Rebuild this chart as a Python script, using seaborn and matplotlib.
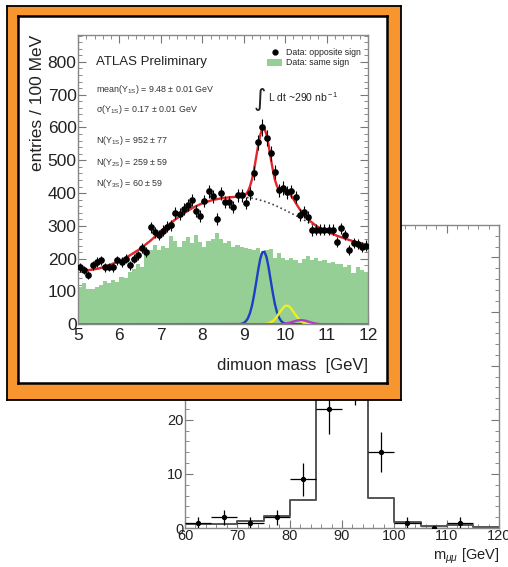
import numpy as np
import matplotlib
matplotlib.use("Agg")
import matplotlib.pyplot as plt
from matplotlib.ticker import MultipleLocator
from matplotlib.lines import Line2D
from matplotlib.patches import Patch
import seaborn as sns

# --- Upsilon region (inset), 100 MeV bins from 5 to 12 GeV ---
mass_lo, mass_hi, mass_bin = 5.0, 12.0, 0.1
opp_counts = [174, 165, 150, 180, 190, 195, 174, 175, 174, 195,
              190, 200, 180, 200, 210, 232, 220, 296, 280, 272,
              285, 298, 302, 339, 336, 351, 363, 379, 345, 330,
              376, 406, 391, 320, 400, 373, 373, 357, 394, 394,
              370, 400, 460, 555, 600, 568, 522, 464, 409, 415,
              402, 405, 388, 333, 342, 327, 287, 288, 288, 288,
              288, 288, 250, 293, 272, 226, 247, 245, 235, 240]
same_counts = [115, 125, 107, 107, 113, 120, 133, 125, 135, 130,
               143, 140, 160, 170, 185, 175, 210, 225, 243, 225,
               240, 233, 270, 255, 237, 253, 265, 247, 273, 250,
               237, 255, 260, 277, 260, 247, 253, 235, 243, 237,
               233, 230, 225, 233, 217, 225, 230, 203, 217, 203,
               197, 203, 197, 187, 200, 207, 197, 203, 193, 197,
               187, 190, 185, 185, 175, 180, 155, 175, 165, 160]

# fit curves
bg_x = [5.0, 5.25, 5.5, 5.75, 6.0, 6.25, 6.5, 6.75, 7.0, 7.25, 7.5, 7.75, 8.0,
        8.25, 8.5, 8.75, 9.0, 9.25, 9.5, 9.75, 10.0, 10.25, 10.5, 10.75, 11.0,
        11.25, 11.5, 11.75, 12.0]
bg_y = [172, 165, 170, 180, 193, 210, 230, 255, 283, 310, 334, 354, 369,
        379, 385, 388, 388, 383.5, 375, 363, 348, 332, 315, 298, 283,
        270, 259, 249, 242]
peak_x = list(np.round(np.arange(9.0, 10.501, 0.05), 2))
peak_y = [392, 396, 405, 420, 442, 472, 509, 546, 578, 597,
          597, 578, 547, 508, 473, 442, 422, 412, 408, 408,
          408, 406, 400, 391, 382, 371, 361, 351, 343, 334, 328]
tail_x = [10.6, 10.75, 11.0, 11.25, 11.5, 11.75, 12.0]
tail_y = [315, 300, 283, 270, 259, 249, 242]
fit_x = bg_x[:16] + peak_x + tail_x
fit_y = bg_y[:16] + peak_y + tail_y

y1s_x = [5.0] + list(np.round(np.arange(8.9, 10.101, 0.05), 2)) + [12.0]
y1s_y = [0, 0.7, 1.7, 4.2, 9.1, 18, 34, 57, 89, 127, 166, 200, 220, 221, 205,
         174, 135, 97, 63, 38, 21, 10.5, 4.9, 2.1, 0.8, 0.3, 0]
y2s_x = [5.0] + list(np.round(np.arange(9.5, 10.601, 0.05), 2)) + [12.0]
y2s_y = [0, 0.6, 1.4, 2.9, 5.4, 9.6, 15.6, 23, 33, 42, 50, 56, 57, 54, 47, 38,
         29, 20, 13, 7.7, 4.2, 2.2, 1.0, 0.5, 0]
y3s_x = [5.0, 9.9, 10.0, 10.1, 10.2, 10.3, 10.4, 10.5, 10.6, 10.7, 10.8, 10.9, 12.0]
y3s_y = [0, 0.5, 1.8, 4.4, 8.3, 11.9, 12.9, 10.7, 6.6, 3.2, 1.1, 0.3, 0]

stats_lines = [r"mean(Υ$_{\rm 1S}$) = 9.48 ± 0.01 GeV",
               r"σ(Υ$_{\rm 1S}$) = 0.17 ± 0.01 GeV",
               r"N(Υ$_{\rm 1S}$) = 952 ± 77",
               r"N(Υ$_{\rm 2S}$) = 259 ± 59",
               r"N(Υ$_{\rm 3S}$) = 60 ± 59"]

# --- Z region (background chart), 5 GeV bins ---
z_edges = [60, 65, 70, 75, 80, 85, 90, 95, 100, 105, 110, 115, 120]
z_mc = [0.7, 0.8, 1.3, 2.2, 5.2, 26, 30, 5.6, 1.2, 0.4, 0.6, 0.1]
z_pts_x = [62.5, 67.5, 72.5, 77.5, 82.5, 87.5, 92.5, 97.5, 102.5, 107.5, 112.5]
z_pts_y = [1, 2, 1, 2, 9, 22, 28, 14, 1, 0, 1]

sns.set_style("ticks")
plt.rcParams['font.family'] = ['Liberation Sans', 'DejaVu Sans']
plt.rcParams['mathtext.fontset'] = 'custom'
plt.rcParams['mathtext.rm'] = 'Liberation Sans'
plt.rcParams['mathtext.it'] = 'Liberation Sans:italic'

W, H = 508, 567
fig = plt.figure(figsize=(W / 100, H / 100), dpi=100)


def px_rect(x0, y0, x1, y1):
    return [x0 / W, 1 - y1 / H, (x1 - x0) / W, (y1 - y0) / H]


# background Z chart
axz = fig.add_axes(px_rect(185, 225, 499, 528))
z_centers = [(a + b) / 2 for a, b in zip(z_edges[:-1], z_edges[1:])]
sns.histplot(x=z_centers, weights=z_mc, bins=z_edges, element="step", fill=False,
             color="#555555", linewidth=1.4, ax=axz)
axz.errorbar(z_pts_x, z_pts_y, xerr=2.5, yerr=np.sqrt(z_pts_y), fmt="o",
             color="black", ms=2.8, elinewidth=0.9, capsize=0, zorder=5)
axz.set_xlim(60, 120)
axz.set_ylim(0, 56)
axz.set_xlabel("")
axz.set_ylabel("")
axz.xaxis.set_major_locator(MultipleLocator(10))
axz.xaxis.set_minor_locator(MultipleLocator(2))
axz.yaxis.set_major_locator(MultipleLocator(10))
axz.yaxis.set_minor_locator(MultipleLocator(2))
axz.tick_params(which="both", direction="in", top=True, right=True, color="#777777")
axz.tick_params(which="major", length=6, width=0.8, labelsize=10.5, pad=1,
                labelcolor="#222222")
axz.tick_params(which="minor", length=3, width=0.6)
for s in axz.spines.values():
    s.set_color("#888888")
    s.set_linewidth(1.0)
axz.text(1.0, -0.095, r"m$_{\mu\mu}$ [GeV]", transform=axz.transAxes,
         ha="right", va="center", fontsize=10.5, color="#222222")

# orange frame and white panel
axo = fig.add_axes(px_rect(7, 6, 401, 400))
axo.set_facecolor("#f7962f")
axo.set_xticks([])
axo.set_yticks([])
for s in axo.spines.values():
    s.set_color("black")
    s.set_linewidth(1.3)
axw = fig.add_axes(px_rect(18, 16, 387, 383))
axw.set_facecolor("white")
axw.set_xticks([])
axw.set_yticks([])
for s in axw.spines.values():
    s.set_color("black")
    s.set_linewidth(1.8)

# inset Upsilon chart
green = "#96cf96"
ax = fig.add_axes(px_rect(78, 35, 368, 324.3))
mass_edges = [round(mass_lo + i * mass_bin, 2) for i in range(len(same_counts) + 1)]
mass_centers = [round(e + mass_bin / 2, 3) for e in mass_edges[:-1]]
sns.histplot(x=mass_centers, weights=same_counts, bins=mass_edges, element="step",
             fill=True, color=green, alpha=1, linewidth=0, ax=ax)
sns.lineplot(x=bg_x, y=bg_y, ax=ax, color="#444444", linestyle=":", linewidth=1.2)
sns.lineplot(x=fit_x, y=fit_y, ax=ax, color="#e3262b", linewidth=1.7, zorder=4)
sns.lineplot(x=y1s_x, y=y1s_y, ax=ax, color="#1c3fc4", linewidth=1.7)
sns.lineplot(x=y2s_x, y=y2s_y, ax=ax, color="#eeee22", linewidth=1.7)
sns.lineplot(x=y3s_x, y=y3s_y, ax=ax, color="#b23bc2", linewidth=1.7)
ax.errorbar(mass_centers, opp_counts, yerr=np.sqrt(opp_counts), fmt="o",
            color="black", ms=3.8, elinewidth=0.8, capsize=0, zorder=5)
ax.set_xlim(mass_lo, mass_hi)
ax.set_ylim(0, 882)
ax.set_xlabel("")
ax.set_ylabel("")
ax.xaxis.set_major_locator(MultipleLocator(1))
ax.xaxis.set_minor_locator(MultipleLocator(0.2))
ax.yaxis.set_major_locator(MultipleLocator(100))
ax.yaxis.set_minor_locator(MultipleLocator(20))
ax.tick_params(which="both", direction="in", top=True, right=True, color="#777777")
ax.tick_params(which="major", length=6, width=0.8, labelsize=12.5,
               labelcolor="#222222")
ax.tick_params(axis="x", which="major", pad=3)
ax.tick_params(axis="y", which="major", pad=1)
ax.tick_params(which="minor", length=3, width=0.6)
for s in ax.spines.values():
    s.set_color("#888888")
    s.set_linewidth(1.0)

ax.text(-0.138, 1.0, "entries / 100 MeV", transform=ax.transAxes, rotation=90,
        ha="center", va="top", fontsize=12.5, color="#222222")
ax.text(1.0, -0.141, "dimuon mass  [GeV]", transform=ax.transAxes,
        ha="right", va="center", fontsize=12, color="#222222")
ax.text(0.062, 0.907, "ATLAS Preliminary", transform=ax.transAxes,
        ha="left", va="center", fontsize=9.5, color="#222222")
for txt, yy in zip(stats_lines, [0.813, 0.744, 0.637, 0.561, 0.485]):
    ax.text(0.062, yy, txt, transform=ax.transAxes, ha="left", va="center",
            fontsize=6.4, color="#333333")
ax.text(0.628, 0.78, "∫", transform=ax.transAxes, ha="center", va="center",
        fontsize=17, color="#222222", family=["DejaVu Sans"])
ax.text(0.655, 0.785, r"L dt ~290 nb$^{\rm -1}$", transform=ax.transAxes,
        ha="left", va="center", fontsize=7.5, color="#222222")

handles = [Line2D([], [], marker="o", color="black", linestyle="none", ms=3.5),
           Patch(facecolor=green, edgecolor="none")]
ax.legend(handles, ["Data: opposite sign", "Data: same sign"], loc="upper right",
          bbox_to_anchor=(0.975, 0.955), frameon=False, fontsize=6.3,
          handlelength=1.8, handleheight=0.8, handletextpad=0.4,
          labelspacing=0.15, borderpad=0, borderaxespad=0)

fig.savefig("out.png", dpi=100)
